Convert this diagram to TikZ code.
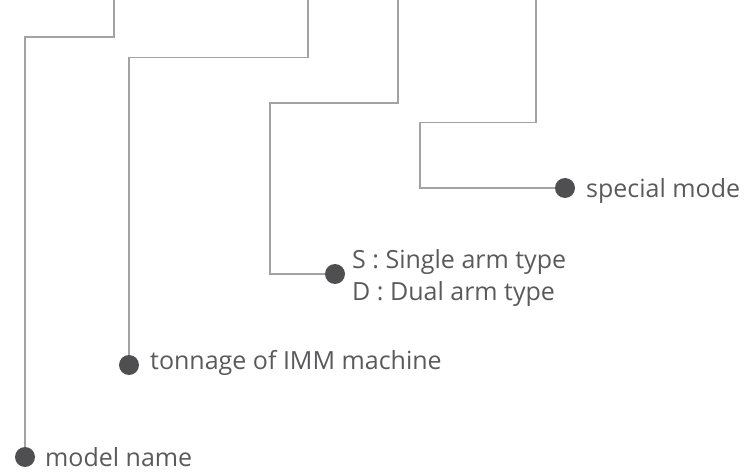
\documentclass[tikz,border=0pt]{standalone}
\usepackage{fontspec}
\setmainfont{Open Sans}
\definecolor{linegray}{HTML}{A3A3A3}
\definecolor{dotgray}{HTML}{4F4E50}
\definecolor{txtgray}{HTML}{5A5A5C}
\tikzset{
  conn/.style={draw=linegray, line width=1.3pt},
  bullet/.style={circle, fill=dotgray, minimum size=20pt, inner sep=0pt},
  lbl/.style={anchor=base west, inner sep=0pt, text=txtgray, font=\fontsize{25}{30}\selectfont}
}
\begin{document}
\begin{tikzpicture}[x=1pt,y=-1pt]
\useasboundingbox (0,0) rectangle (748,473);
% free top ends
\coordinate (t1) at (114,0);
\coordinate (t2) at (308,0);
\coordinate (t3) at (398,0);
\coordinate (t4) at (536,0);
% bullets
\node[bullet] (m) at (25,457) {};
\node[bullet] (t) at (129,365) {};
\node[bullet] (s) at (335,274) {};
\node[bullet] (p) at (565,188) {};
% labels
\node[lbl] (lm) at (45,467) {model name};
\node[lbl] (lt) at (150,370) {tonnage of IMM machine};
\node[lbl] (ls) at (352,269) {S : Single arm type};
\node[lbl] (ld) at (352,301) {D : Dual arm type};
\node[lbl] (lp) at (586,198) {special mode};
% connectors
\draw[conn] (t1) -- ++(0,37) -| (m);
\draw[conn] (t2) -- ++(0,57.5) -| (t);
\draw[conn] (t3) -- ++(0,103) -| ++(-128,171) -- (s);
\draw[conn] (t4) -- ++(0,122.5) -| ++(-116,65.5) -- (p);
\end{tikzpicture}
\end{document}
